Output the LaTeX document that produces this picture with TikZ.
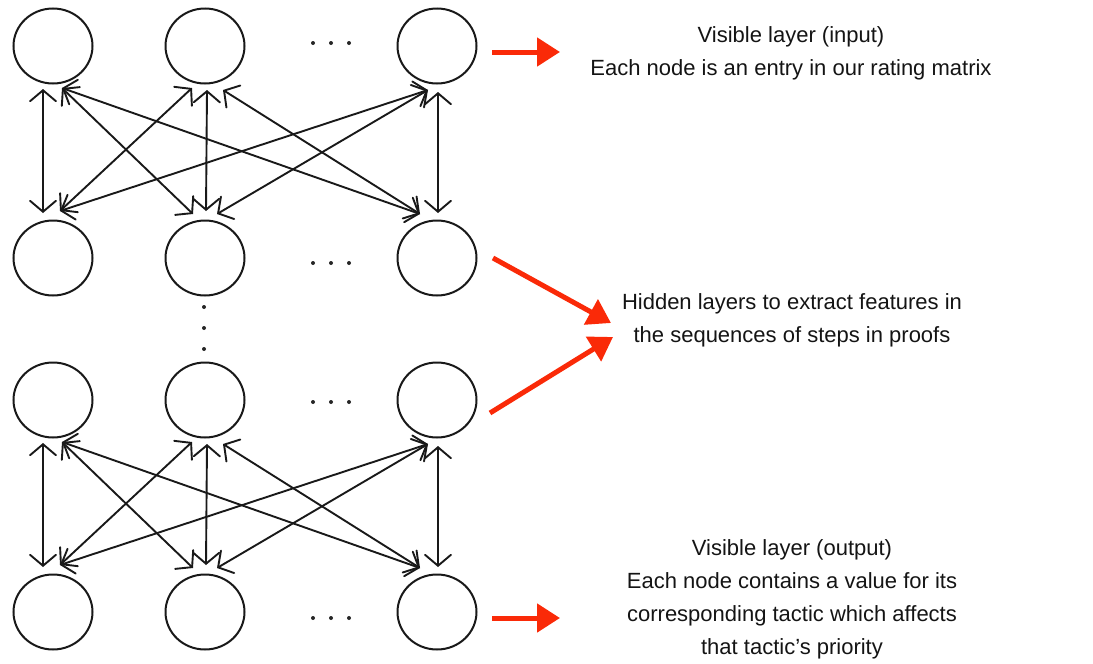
\documentclass[tikz,border=0pt]{standalone}
\usepackage{fontspec}
\setmainfont{Liberation Sans}
\usetikzlibrary{arrows.meta,shapes.geometric}
\definecolor{arrred}{RGB}{250,42,8}
\begin{document}
\begin{tikzpicture}[x=1pt,y=-1pt,
  unit/.style={draw=black!90,ellipse,line width=2pt,minimum width=79pt,minimum height=75pt,inner sep=0pt},
  link/.style={draw=black!90,line width=1.9pt,line cap=round,{Straight Barb[length=11pt,width=26pt,line cap=round]}-{Straight Barb[length=11pt,width=26pt,line cap=round]}},
  redarr/.style={draw=arrred,line width=5pt,-{Triangle[length=23pt,width=28pt]}},
  label/.style={align=center,font=\fontsize{22}{33}\selectfont,text=black!92,inner sep=0pt},
  dot/.style={fill=black!85}]
\useasboundingbox (0,0) rectangle (1093,664);
% nodes
\foreach \r/\y in {a/46,b/258,c/400,d/612}{
  \node[unit] (\r1) at (53,\y) {};
  \node[unit] (\r2) at (205,\y) {};
  \node[unit] (\r3) at (437,\y) {};
}
% horizontal dots
\foreach \y in {43,263,402,618}{
  \foreach \x in {313,331,349} \fill[dot] (\x,\y) circle (2);
}
% vertical dots
\foreach \y in {307,328,349} \fill[dot] (204,\y) circle (2);
% connectors
\foreach \U/\L in {a/b,c/d}{
  \coordinate (\U1v) at ([shift={(-10,43)}]\U1.center);
  \coordinate (\U1d) at ([shift={(9,42)}]\U1.center);
  \coordinate (\U2l) at ([shift={(-13,42)}]\U2.center);
  \coordinate (\U2v) at ([shift={(2,44)}]\U2.center);
  \coordinate (\U2r) at ([shift={(18,44)}]\U2.center);
  \coordinate (\U3d) at ([shift={(-9,44)}]\U3.center);
  \coordinate (\U3v) at ([shift={(1,46)}]\U3.center);
  \coordinate (\L1v) at ([shift={(-10,-45)}]\L1.center);
  \coordinate (\L1d) at ([shift={(7,-47)}]\L1.center);
  \coordinate (\L2l) at ([shift={(-12,-44)}]\L2.center);
  \coordinate (\L2v) at ([shift={(1,-47)}]\L2.center);
  \coordinate (\L2r) at ([shift={(12,-44)}]\L2.center);
  \coordinate (\L3d) at ([shift={(-17,-44)}]\L3.center);
  \coordinate (\L3v) at ([shift={(1,-45)}]\L3.center);
  \draw[link] (\U1v) -- (\L1v);
  \draw[link] (\U1d) -- (\L2l);
  \draw[link] (\U1d) -- (\L3d);
  \draw[link] (\U2l) -- (\L1d);
  \draw[link] (\U2v) -- (\L2v);
  \draw[link] (\U2r) -- (\L3d);
  \draw[link] (\U3d) -- (\L1d);
  \draw[link] (\U3d) -- (\L2r);
  \draw[link] (\U3v) -- (\L3v);
}
% labels
\node[label] (tin) at (791,53) {Visible layer (input)\\Each node is an entry in our rating matrix};
\node[label] (thid) at (792,320) {Hidden layers to extract features in\\the sequences of steps in proofs};
\node[label,anchor=north] (tout) at (792,539) {Visible layer (output)\\Each node contains a value for its\\corresponding tactic which affects\\that tactic's priority};
% red arrows
\coordinate (r1s) at (492,52);  \coordinate (r1e) at (560,52);
\coordinate (r2s) at (493,258); \coordinate (r2e) at (611,323);
\coordinate (r3s) at (490,413); \coordinate (r3e) at (613,337);
\coordinate (r4s) at (492,618); \coordinate (r4e) at (560,618);
\draw[redarr] (r1s) -- (r1e);
\draw[redarr] (r2s) -- (r2e);
\draw[redarr] (r3s) -- (r3e);
\draw[redarr] (r4s) -- (r4e);
\end{tikzpicture}
\end{document}
